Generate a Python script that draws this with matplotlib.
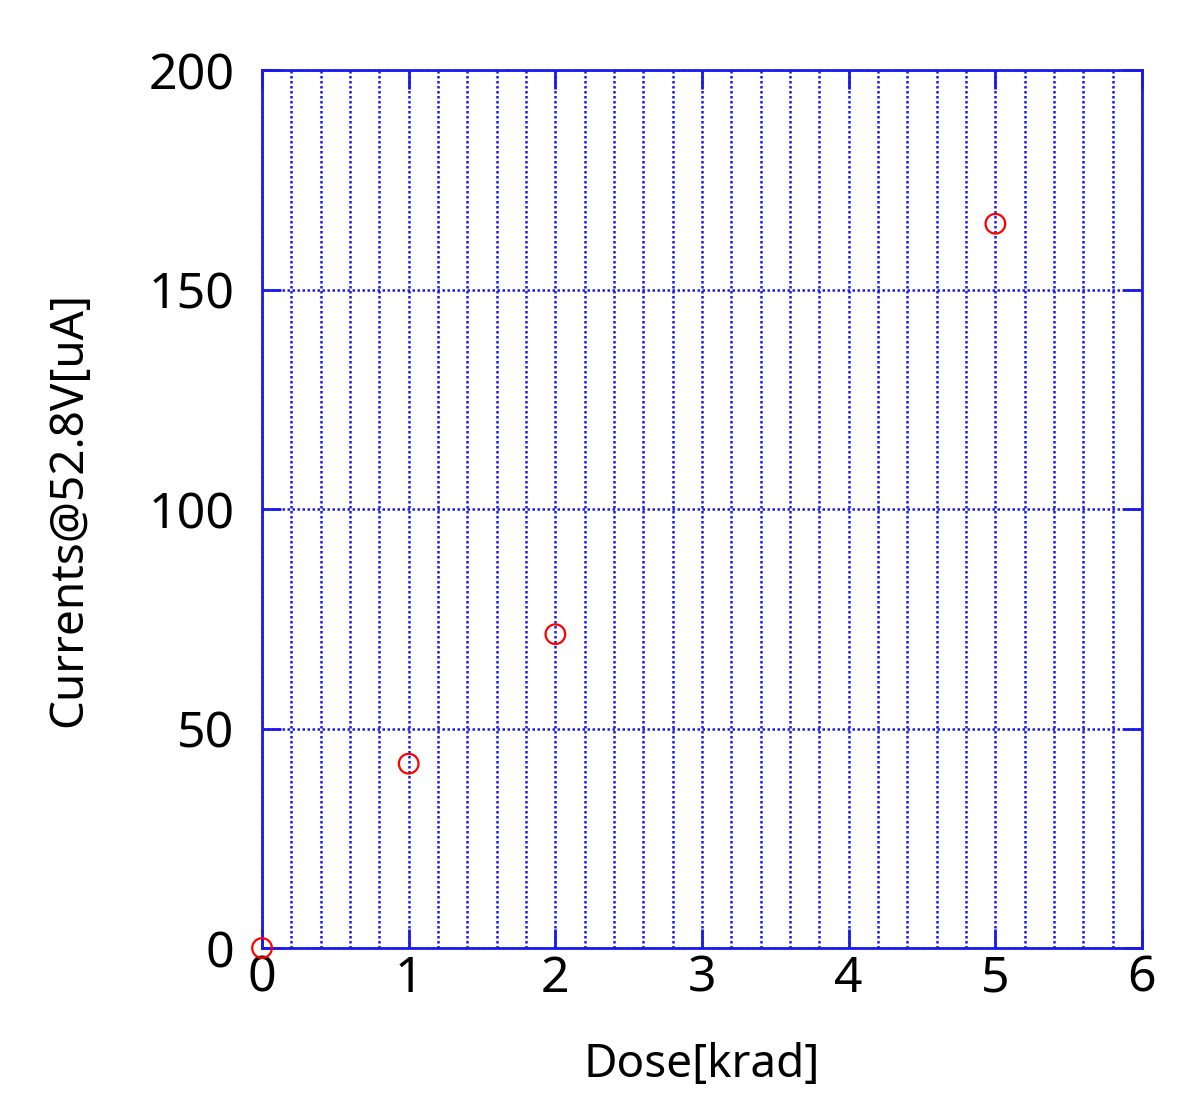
import numpy as np
import matplotlib.pyplot as plt
from matplotlib.ticker import MultipleLocator

plt.rcParams['font.family'] = ['Noto Sans', 'DejaVu Sans']

# dose vs current
dose = [0, 1, 2, 5]
current = [0, 42, 71.5, 165]

blue = '#1a1aee'

fig = plt.figure(figsize=(11.9, 10.96), dpi=100)
ax = fig.add_axes([0.2202, 0.135, 0.7395, 0.801])

ax.scatter(dose, current, s=200, facecolors='none', edgecolors='red', linewidths=1.6, zorder=5, clip_on=False)

ax.set_xlim(0, 6)
ax.set_ylim(0, 200)
ax.xaxis.set_major_locator(MultipleLocator(1))
ax.xaxis.set_minor_locator(MultipleLocator(0.2))
ax.yaxis.set_major_locator(MultipleLocator(50))

ax.grid(which='major', color=blue, linestyle=(0, (1, 1)), linewidth=1.8)
ax.grid(which='minor', axis='x', color=blue, linestyle=(0, (1, 1)), linewidth=1.8)
ax.set_axisbelow(True)

for s in ax.spines.values():
    s.set_color(blue)
    s.set_linewidth(2)

ax.tick_params(which='major', direction='in', length=14, width=2, color=blue,
               top=True, right=True, labelsize=36, pad=4)
ax.tick_params(which='minor', length=0)
ax.tick_params(axis='y', pad=20)

ax.set_xlabel('Dose[krad]', fontsize=33, labelpad=28)
ax.set_ylabel('Currents@52.8V[uA]', fontsize=33, labelpad=40)

plt.savefig('out.png')
